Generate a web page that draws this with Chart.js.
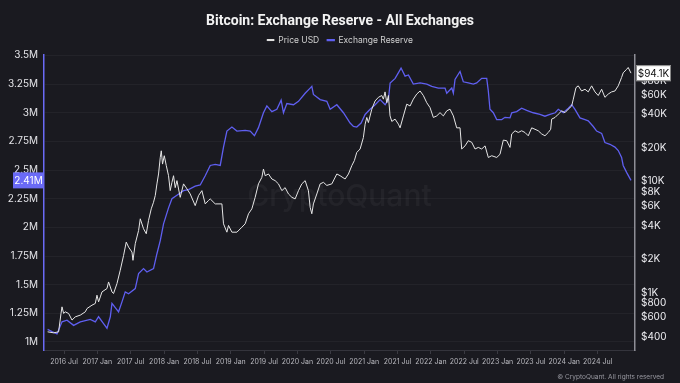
<!DOCTYPE html>
<html>
<head>
<meta charset="utf-8">
<script src="https://cdn.jsdelivr.net/npm/chart.js@4.4.1/dist/chart.umd.min.js"></script>
<style>
  html, body { margin: 0; padding: 0; background: #1a1a20; }
  #wrap { width: 680px; height: 383px; position: relative; }
</style>
</head>
<body>
<div id="wrap"><canvas id="chart"></canvas></div>
<script>
// dates are decimal years
let resDates = [
  2016.254, 2016.32, 2016.395, 2016.47, 2016.545, 2016.644, 2016.744, 2016.894, 2016.969,
  2017.018, 2017.093, 2017.144, 2017.194, 2017.219, 2017.318, 2017.369, 2017.418, 2017.468, 2017.568, 2017.618, 2017.692, 2017.743, 2017.842, 2017.893, 2017.943, 2017.992,
  2018.067, 2018.118, 2018.193, 2018.292, 2018.367, 2018.467, 2018.542, 2018.617, 2018.692, 2018.767, 2018.842, 2018.891, 2018.942,
  2019.017, 2019.092, 2019.216, 2019.291, 2019.355, 2019.415, 2019.49, 2019.541, 2019.616, 2019.691, 2019.755, 2019.79, 2019.841, 2019.94,
  2020.015, 2020.115, 2020.19, 2020.215, 2020.239, 2020.34, 2020.44, 2020.49, 2020.59, 2020.689, 2020.789, 2020.839, 2020.889, 2020.954,
  2021.014, 2021.089, 2021.164, 2021.239, 2021.314, 2021.363, 2021.389, 2021.464, 2021.553, 2021.613, 2021.663, 2021.737, 2021.838, 2021.938,
  2022.013, 2022.112, 2022.212, 2022.238, 2022.313, 2022.337, 2022.362, 2022.437, 2022.486, 2022.561, 2022.636, 2022.687, 2022.762, 2022.837, 2022.861, 2022.886, 2022.936, 2022.987,
  2023.062, 2023.111, 2023.186, 2023.212, 2023.286, 2023.361, 2023.436, 2023.535, 2023.635, 2023.71, 2023.785, 2023.864, 2023.91, 2023.985,
  2024.06, 2024.111, 2024.16, 2024.235, 2024.31, 2024.359, 2024.434, 2024.485, 2024.56, 2024.609, 2024.684, 2024.759, 2024.809, 2024.859, 2024.883, 2024.934, 2025.0
];
// exchange reserve, millions of BTC
let resValues = [
  1.11, 1.09, 1.07, 1.176, 1.19, 1.145, 1.176, 1.197, 1.176,
  1.22, 1.16, 1.12, 1.22, 1.336, 1.263, 1.35, 1.437, 1.42, 1.466, 1.596, 1.64, 1.61, 1.64, 1.77, 1.885, 2.03,
  2.17, 2.25, 2.28, 2.32, 2.33, 2.36, 2.37, 2.45, 2.54, 2.55, 2.54, 2.70, 2.84,
  2.875, 2.84, 2.846, 2.84, 2.80, 2.87, 3.0, 3.06, 3.01, 3.03, 3.11, 3.0, 3.08, 3.07,
  3.10, 3.17, 3.215, 3.23, 3.16, 3.115, 3.10, 3.03, 3.07, 3.0, 2.91, 2.88, 2.875, 2.91,
  2.985, 3.03, 3.07, 3.115, 3.07, 3.115, 3.26, 3.30, 3.39, 3.32, 3.33, 3.25, 3.26, 3.25,
  3.23, 3.215, 3.215, 3.17, 3.215, 3.17, 3.29, 3.36, 3.27, 3.26, 3.25, 3.26, 3.30, 3.30, 3.19, 3.03, 3.0, 2.94,
  2.94, 2.96, 2.955, 3.0, 3.01, 3.04, 3.02, 3.0, 2.985, 2.97, 2.985, 3.0, 3.03, 3.0,
  3.04, 3.07, 3.03, 2.955, 2.94, 2.93, 2.88, 2.84, 2.82, 2.74, 2.725, 2.70, 2.67, 2.61, 2.54, 2.48, 2.41
];

let priceDates = [
  2016.254, 2016.344, 2016.419, 2016.455, 2016.47, 2016.494, 2016.519, 2016.569, 2016.62, 2016.669, 2016.744, 2016.819, 2016.845, 2016.919, 2016.969, 2016.994,
  2017.018, 2017.044, 2017.069, 2017.144, 2017.168, 2017.194, 2017.219, 2017.243, 2017.294, 2017.343, 2017.393, 2017.433, 2017.468, 2017.519, 2017.534, 2017.568,
  2017.618, 2017.643, 2017.692, 2017.733, 2017.767, 2017.808, 2017.842, 2017.868, 2017.893, 2017.917, 2017.943, 2017.958, 2017.977,
  2018.003, 2018.033, 2018.067, 2018.092, 2018.118, 2018.142, 2018.167, 2018.193, 2018.242, 2018.292, 2018.343, 2018.392, 2018.467, 2018.517, 2018.567,
  2018.617, 2018.666, 2018.692, 2018.767, 2018.867, 2018.891, 2018.942, 2018.966,
  2019.017, 2019.092, 2019.167, 2019.216, 2019.266, 2019.316, 2019.366, 2019.415, 2019.466, 2019.49, 2019.516, 2019.565, 2019.616, 2019.665, 2019.715,
  2019.766, 2019.815, 2019.865, 2019.916, 2019.965,
  2020.015, 2020.065, 2020.115, 2020.164, 2020.19, 2020.215, 2020.239, 2020.29, 2020.34, 2020.389, 2020.44, 2020.515, 2020.59, 2020.639, 2020.714,
  2020.764, 2020.815, 2020.853, 2020.889, 2020.939, 2020.988,
  2021.014, 2021.039, 2021.063, 2021.114, 2021.163, 2021.213, 2021.264, 2021.288, 2021.313, 2021.339, 2021.363, 2021.388, 2021.414, 2021.463, 2021.513,
  2021.538, 2021.588, 2021.638, 2021.688, 2021.737, 2021.788, 2021.838, 2021.887, 2021.938, 2021.987,
  2022.037, 2022.088, 2022.137, 2022.187, 2022.238, 2022.287, 2022.337, 2022.387, 2022.437, 2022.462, 2022.512, 2022.561, 2022.612, 2022.662, 2022.711,
  2022.762, 2022.812, 2022.861, 2022.912, 2022.987,
  2023.036, 2023.086, 2023.137, 2023.186, 2023.212, 2023.262, 2023.31, 2023.361, 2023.41, 2023.46, 2023.511, 2023.561, 2023.61, 2023.661, 2023.71,
  2023.76, 2023.796, 2023.811, 2023.861, 2023.91, 2023.961,
  2024.011, 2024.06, 2024.111, 2024.135, 2024.175, 2024.209, 2024.26, 2024.31, 2024.359, 2024.41, 2024.46, 2024.509, 2024.56, 2024.609, 2024.659,
  2024.709, 2024.759, 2024.809, 2024.859, 2024.883, 2024.934, 2024.958, 2025.0
];
// BTC price in USD
let priceValues = [
  443, 434, 443, 648, 743, 648, 670, 648, 565, 604, 626, 670, 718, 769, 797, 946,
  824, 913, 1012, 1086, 1245, 1122, 1012, 980, 1205, 1585, 2157, 2841, 2562, 2311, 1948, 2750,
  3614, 4604, 3749, 3379, 4450, 5663, 6484, 7450, 9484, 11650, 16400, 18830, 14300,
  17000, 13870, 11240, 8260, 9800, 11240, 8780, 10150, 7180, 9490, 8560, 7700, 6050, 7450, 8250,
  6270, 6725, 6950, 6270, 6270, 4150, 3490, 4010,
  3490, 3490, 3870, 4150, 5110, 5660, 7190, 9490, 10860, 12900, 11240, 11650, 10500, 10150, 9490,
  8250, 8780, 7700, 7190, 6950,
  8250, 9490, 10150, 8250, 5840, 5110, 6270, 7700, 9490, 9800, 9190, 9490, 11650, 11240, 10500,
  11650, 13870, 15380, 18200, 19550, 24800,
  32650, 37550, 33800, 44570, 52850, 57000, 59200, 54900, 63800, 51000, 59200, 38820, 34600, 36300, 32700,
  30300, 38800, 49500, 47640, 54900, 61000, 65000, 59200, 51000, 46100,
  37550, 38800, 41500, 38800, 43100, 44600, 38800, 30300, 30300, 19550, 20850, 23200, 22460, 19550, 20200,
  19550, 20850, 16400, 17000, 16400,
  17500, 23500, 23200, 20200, 26700, 28500, 27530, 28500, 27530, 25700, 30300, 29400, 28500, 26700, 25700,
  27530, 29400, 36300, 37550, 40200, 43100,
  41500, 44600, 47640, 54900, 69700, 72300, 65000, 67400, 63800, 72300, 63800, 59200, 67400, 57000, 61000,
  63800, 65000, 72300, 86000, 94700, 101800, 105800, 94100
];

let xTicks = [2016.5, 2017, 2017.5, 2018, 2018.5, 2019, 2019.5, 2020, 2020.5, 2021, 2021.5, 2022, 2022.5, 2023, 2023.5, 2024, 2024.5];
let reserveTicks = [1, 1.25, 1.5, 1.75, 2, 2.25, 2.5, 2.75, 3, 3.25, 3.5];
let priceTicks = [400, 600, 800, 1000, 2000, 4000, 6000, 8000, 10000, 20000, 40000, 60000, 80000];

let reserveColor = '#5f5ff0';
let priceColor = '#e6e6e6';
let font = 'Inter, "Noto Sans", sans-serif';

function toPoints(xs, ys){
  return xs.map((x, i) => ({x: x, y: ys[i]}));
}

function fmtPrice(v){
  if(v >= 1000) return '$' + (v / 1000) + 'K';
  return '$' + v;
}

// badges with the latest values + watermark + footer
let extras = {
  id: 'extras',
  beforeDatasetsDraw(chart){
    let {ctx, chartArea} = chart;
    ctx.save();
    ctx.font = '500 30px ' + font;
    ctx.fillStyle = 'rgba(255,255,255,0.045)';
    ctx.textAlign = 'center';
    ctx.textBaseline = 'middle';
    ctx.fillText('CryptoQuant', (chartArea.left + chartArea.right) / 2, 197);
    ctx.restore();
  },
  afterDraw(chart){
    let {ctx, chartArea, scales} = chart;
    let lastRes = resValues[resValues.length - 1];
    let lastPrice = priceValues[priceValues.length - 1];
    ctx.save();
    ctx.font = '10px ' + font;
    ctx.textBaseline = 'middle';

    let yl = scales.yL.getPixelForValue(lastRes);
    ctx.fillStyle = '#6a6af6';
    ctx.fillRect(13, yl - 8, chartArea.left - 13, 16);
    ctx.fillStyle = '#ffffff';
    ctx.textAlign = 'center';
    ctx.fillText(lastRes.toFixed(2) + 'M', (13 + chartArea.left) / 2, yl + 0.5);

    let yr = scales.yR.getPixelForValue(lastPrice);
    ctx.fillStyle = '#ffffff';
    ctx.fillRect(chartArea.right + 1, yr - 8, 35, 16);
    ctx.strokeStyle = '#888';
    ctx.lineWidth = 1;
    ctx.strokeRect(chartArea.right + 1.5, yr - 7.5, 34, 15);
    ctx.fillStyle = '#111';
    ctx.fillText('$' + (lastPrice / 1000).toFixed(1) + 'K', chartArea.right + 18.5, yr + 0.5);

    ctx.font = '6.5px ' + font;
    ctx.fillStyle = '#9a9aa2';
    ctx.textAlign = 'right';
    ctx.fillText('\u00A9 CryptoQuant. All rights reserved', 664, 377);
    ctx.restore();
  }
};

let ctx = document.getElementById('chart').getContext('2d');
let chart = new Chart(ctx, {
  type: 'line',
  data: {
    datasets: [
      {
        label: 'Price USD',
        data: toPoints(priceDates, priceValues),
        yAxisID: 'yR',
        borderColor: priceColor,
        backgroundColor: priceColor,
        borderWidth: 1,
        pointRadius: 0,
        tension: 0
      },
      {
        label: 'Exchange Reserve',
        data: toPoints(resDates, resValues),
        yAxisID: 'yL',
        borderColor: reserveColor,
        backgroundColor: reserveColor,
        borderWidth: 1.3,
        pointRadius: 0,
        tension: 0
      }
    ]
  },
  options: {
    responsive: true,
    maintainAspectRatio: false,
    animation: false,
    layout: { padding: { top: 0, bottom: 12, left: 0, right: 0 } },
    plugins: {
      title: {
        display: true,
        text: 'Bitcoin: Exchange Reserve - All Exchanges',
        color: '#f2f2f2',
        font: { family: 'Roboto', size: 14, weight: 'bold' },
        padding: { top: 13, bottom: -2 }
      },
      legend: {
        display: true,
        labels: {
          color: '#d0d0d0',
          font: { family: font, size: 8.5 },
          boxWidth: 7,
          boxHeight: 1,
          padding: 8
        }
      },
      tooltip: { enabled: false }
    },
    scales: {
      x: {
        type: 'linear',
        min: 2016.2,
        max: 2025.06,
        afterBuildTicks: s => { s.ticks = xTicks.map(v => ({value: v})); },
        afterFit: s => { s.height = 21; },
        ticks: {
          color: '#b8b8be',
          font: { family: font, size: 7 },
          maxRotation: 0,
          autoSkip: false,
          padding: 4,
          callback: v => Math.floor(v) + (v % 1 ? ' Jul' : ' Jan')
        },
        grid: { drawOnChartArea: false, drawTicks: true, tickLength: 4, color: '#3a3a42' },
        border: { color: '#34343c' }
      },
      yL: {
        type: 'linear',
        position: 'left',
        min: 0.93,
        max: 3.51,
        afterBuildTicks: s => { s.ticks = reserveTicks.map(v => ({value: v})); },
        afterFit: s => { s.width = 44; },
        ticks: {
          color: '#e4e4e8',
          font: { family: font, size: 10 },
          padding: 6,
          callback: v => v + 'M'
        },
        grid: { color: 'rgba(255,255,255,0.045)', drawTicks: false },
        border: { color: '#6a6af6', width: 1.5 }
      },
      yR: {
        type: 'logarithmic',
        position: 'right',
        min: 304,
        max: 139000,
        afterBuildTicks: s => { s.ticks = priceTicks.map(v => ({value: v})); },
        afterFit: s => { s.width = 45; },
        ticks: {
          color: '#ececf0',
          font: { family: font, size: 10 },
          padding: 6,
          callback: v => fmtPrice(v)
        },
        grid: { display: false, drawTicks: false },
        border: { color: '#8e8e96', width: 1.5 }
      }
    }
  },
  plugins: [extras]
});
</script>
</body>
</html>
